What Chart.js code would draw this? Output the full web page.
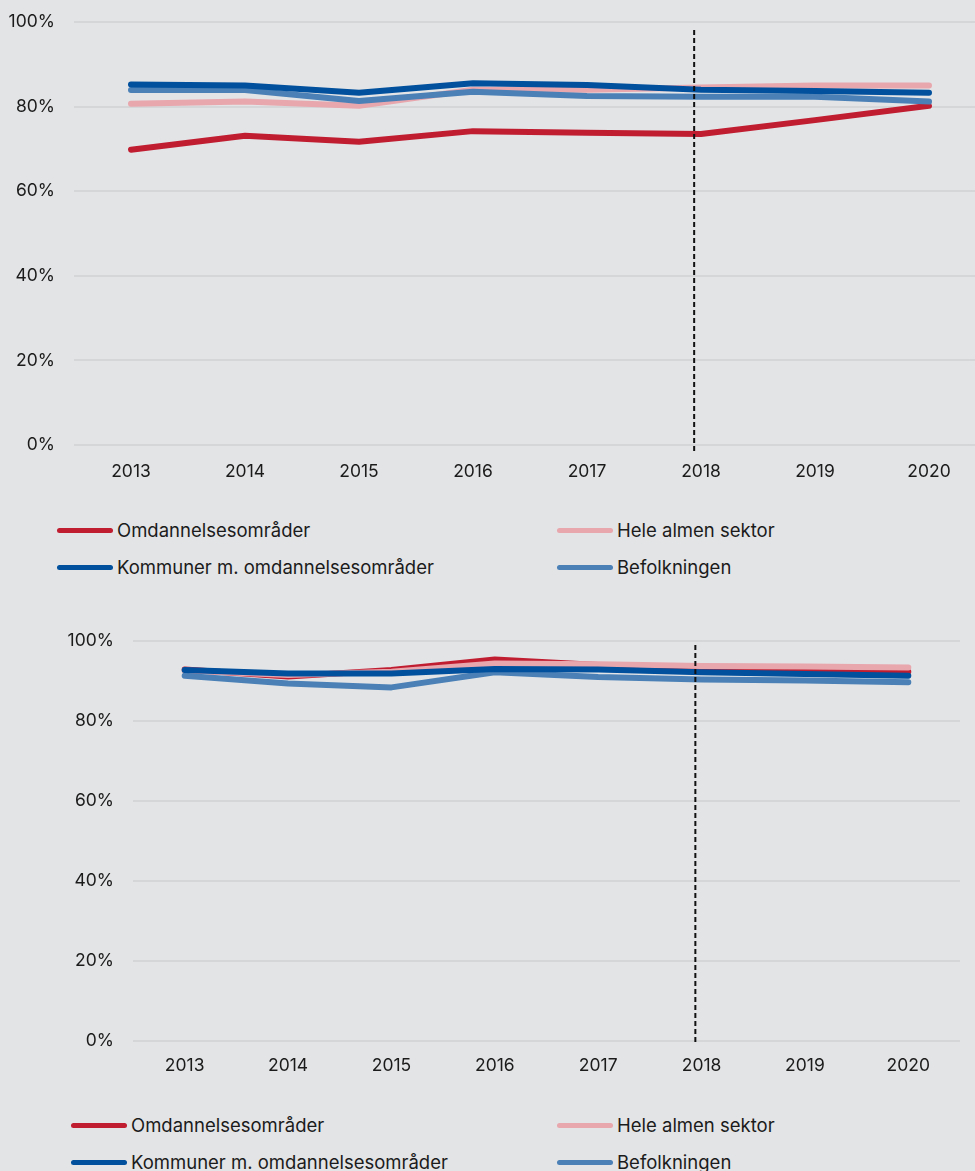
<!DOCTYPE html>
<html lang="da">
<head>
    <meta charset="UTF-8">
    <title>Omdannelsesområder</title>
    <script src="https://cdn.jsdelivr.net/npm/chart.js"></script>
    <style>
        html, body {
            margin: 0;
            padding: 0;
            background: #e3e4e6;
            width: 975px;
            height: 1171px;
            overflow: hidden;
            font-family: Inter, sans-serif;
            color: #1b1b1b;
        }
        .chart-box {
            position: absolute;
            left: 0;
            height: 500px;
        }
        #topBox { top: 0; width: 1000px; }
        #bottomBox { top: 600px; width: 975px; }
        .legend-item {
            position: absolute;
            display: flex;
            align-items: center;
            font-size: 18.5px;
            white-space: nowrap;
        }
        .legend-line {
            width: 56px;
            height: 5px;
            border-radius: 3px;
            margin-right: 4px;
        }
    </style>
</head>
<body>
    <div class="chart-box" id="topBox"><canvas id="topChart"></canvas></div>
    <div class="chart-box" id="bottomBox"><canvas id="bottomChart"></canvas></div>
    <div id="legends"></div>

    <script>
        const years = ['2013', '2014', '2015', '2016', '2017', '2018', '2019', '2020'];
        const seriesNames = ['Omdannelsesområder', 'Hele almen sektor', 'Kommuner m. omdannelsesområder', 'Befolkningen'];
        const seriesColors = ['#c01d31', '#e8a6ad', '#00509d', '#4a80b6'];

        // øverste figur (%)
        const omdTop  = [69.8, 73.1, 71.7, 74.2, 73.8, 73.5, 76.8, 80.2];
        const heleTop = [80.7, 81.2, 80.2, 84.0, 84.0, 84.5, 85.0, 85.0];
        const komTop  = [85.2, 85.0, 83.3, 85.5, 85.1, 84.0, 83.7, 83.3];
        const befTop  = [83.9, 83.9, 81.3, 83.5, 82.5, 82.3, 82.3, 81.2];

        // nederste figur (%)
        const omdBot  = [92.9, 91.1, 92.75, 95.4, 94.0, 92.75, 92.5, 92.3];
        const heleBot = [92.6, 91.5, 92.3, 94.4, 94.2, 93.75, 93.6, 93.4];
        const komBot  = [92.75, 91.9, 91.9, 93.0, 92.9, 92.2, 91.75, 91.3];
        const befBot  = [91.3, 89.4, 88.4, 92.2, 91.0, 90.4, 90.1, 89.7];

        // stiplet lodret linje lige før 2018 (kategori-indeks)
        const markerIndex = 4.94;

        const dashedMarker = {
            id: 'dashedMarker',
            afterDatasetsDraw(chart, args, opts) {
                const x = chart.scales.x.getPixelForValue(markerIndex);
                const area = chart.chartArea;
                const ctx = chart.ctx;
                ctx.save();
                ctx.strokeStyle = '#111';
                ctx.lineWidth = 2;
                ctx.setLineDash([5, 3]);
                ctx.beginPath();
                ctx.moveTo(x, area.top + opts.top);
                ctx.lineTo(x, area.bottom + opts.bottom);
                ctx.stroke();
                ctx.restore();
            }
        };

        function makeChart(id, data, cfg) {
            const drawOrder = [3, 2, 0, 1];
            new Chart(document.getElementById(id), {
                type: 'line',
                data: {
                    labels: years,
                    datasets: data.map((values, i) => ({
                        label: seriesNames[i],
                        data: values,
                        borderColor: seriesColors[i],
                        backgroundColor: seriesColors[i],
                        borderWidth: 6,
                        borderCapStyle: 'round',
                        borderJoinStyle: 'round',
                        pointRadius: 0,
                        tension: 0,
                        order: drawOrder[i]
                    }))
                },
                options: {
                    responsive: true,
                    maintainAspectRatio: false,
                    animation: false,
                    layout: { padding: { top: cfg.padTop, right: cfg.padRight, bottom: 0, left: 0 } },
                    plugins: {
                        legend: { display: false },
                        tooltip: { enabled: false },
                        dashedMarker: cfg.marker
                    },
                    scales: {
                        x: {
                            offset: true,
                            grid: { display: false },
                            border: { display: false },
                            ticks: {
                                color: '#1b1b1b',
                                font: { family: 'Inter', size: 17.5 },
                                padding: cfg.xPad,
                                maxRotation: 0
                            },
                            afterFit: s => {
                                s.height = cfg.xHeight;
                                s.paddingLeft = 0;
                                s.paddingRight = 0;
                            }
                        },
                        y: {
                            min: 0,
                            max: 100,
                            grid: { color: '#d5d6d8', lineWidth: 2, drawTicks: false },
                            border: { display: false },
                            ticks: {
                                stepSize: 20,
                                color: '#1b1b1b',
                                font: { family: 'Inter', size: 17.5 },
                                padding: 19,
                                callback: v => v + '%'
                            },
                            afterFit: s => {
                                s.width = cfg.yWidth;
                                s.paddingTop = 0;
                                s.paddingBottom = 0;
                            }
                        }
                    }
                },
                plugins: [dashedMarker]
            });
        }

        makeChart('topChart', [omdTop, heleTop, komTop, befTop], {
            padTop: 22, padRight: 14, yWidth: 74, xPad: 8, xHeight: 55,
            marker: { top: 8, bottom: 7 }
        });
        makeChart('bottomChart', [omdBot, heleBot, komBot, befBot], {
            padTop: 41, padRight: 15, yWidth: 133, xPad: 6, xHeight: 59,
            marker: { top: 4, bottom: 4 }
        });

        // forklaringer (to kolonner)
        function addLegend(top, leftA, leftB) {
            const holder = document.getElementById('legends');
            const pos = [[leftA, top], [leftB, top], [leftA, top + 37], [leftB, top + 37]];
            seriesNames.forEach((name, i) => {
                const item = document.createElement('div');
                item.className = 'legend-item';
                item.style.left = pos[i][0] + 'px';
                item.style.top = (pos[i][1] - 12) + 'px';
                item.innerHTML = `<span class="legend-line" style="background:${seriesColors[i]}"></span>${name}`;
                holder.appendChild(item);
            });
        }
        addLegend(531, 57, 557);
        addLegend(1126, 71, 557);
    </script>
</body>
</html>
